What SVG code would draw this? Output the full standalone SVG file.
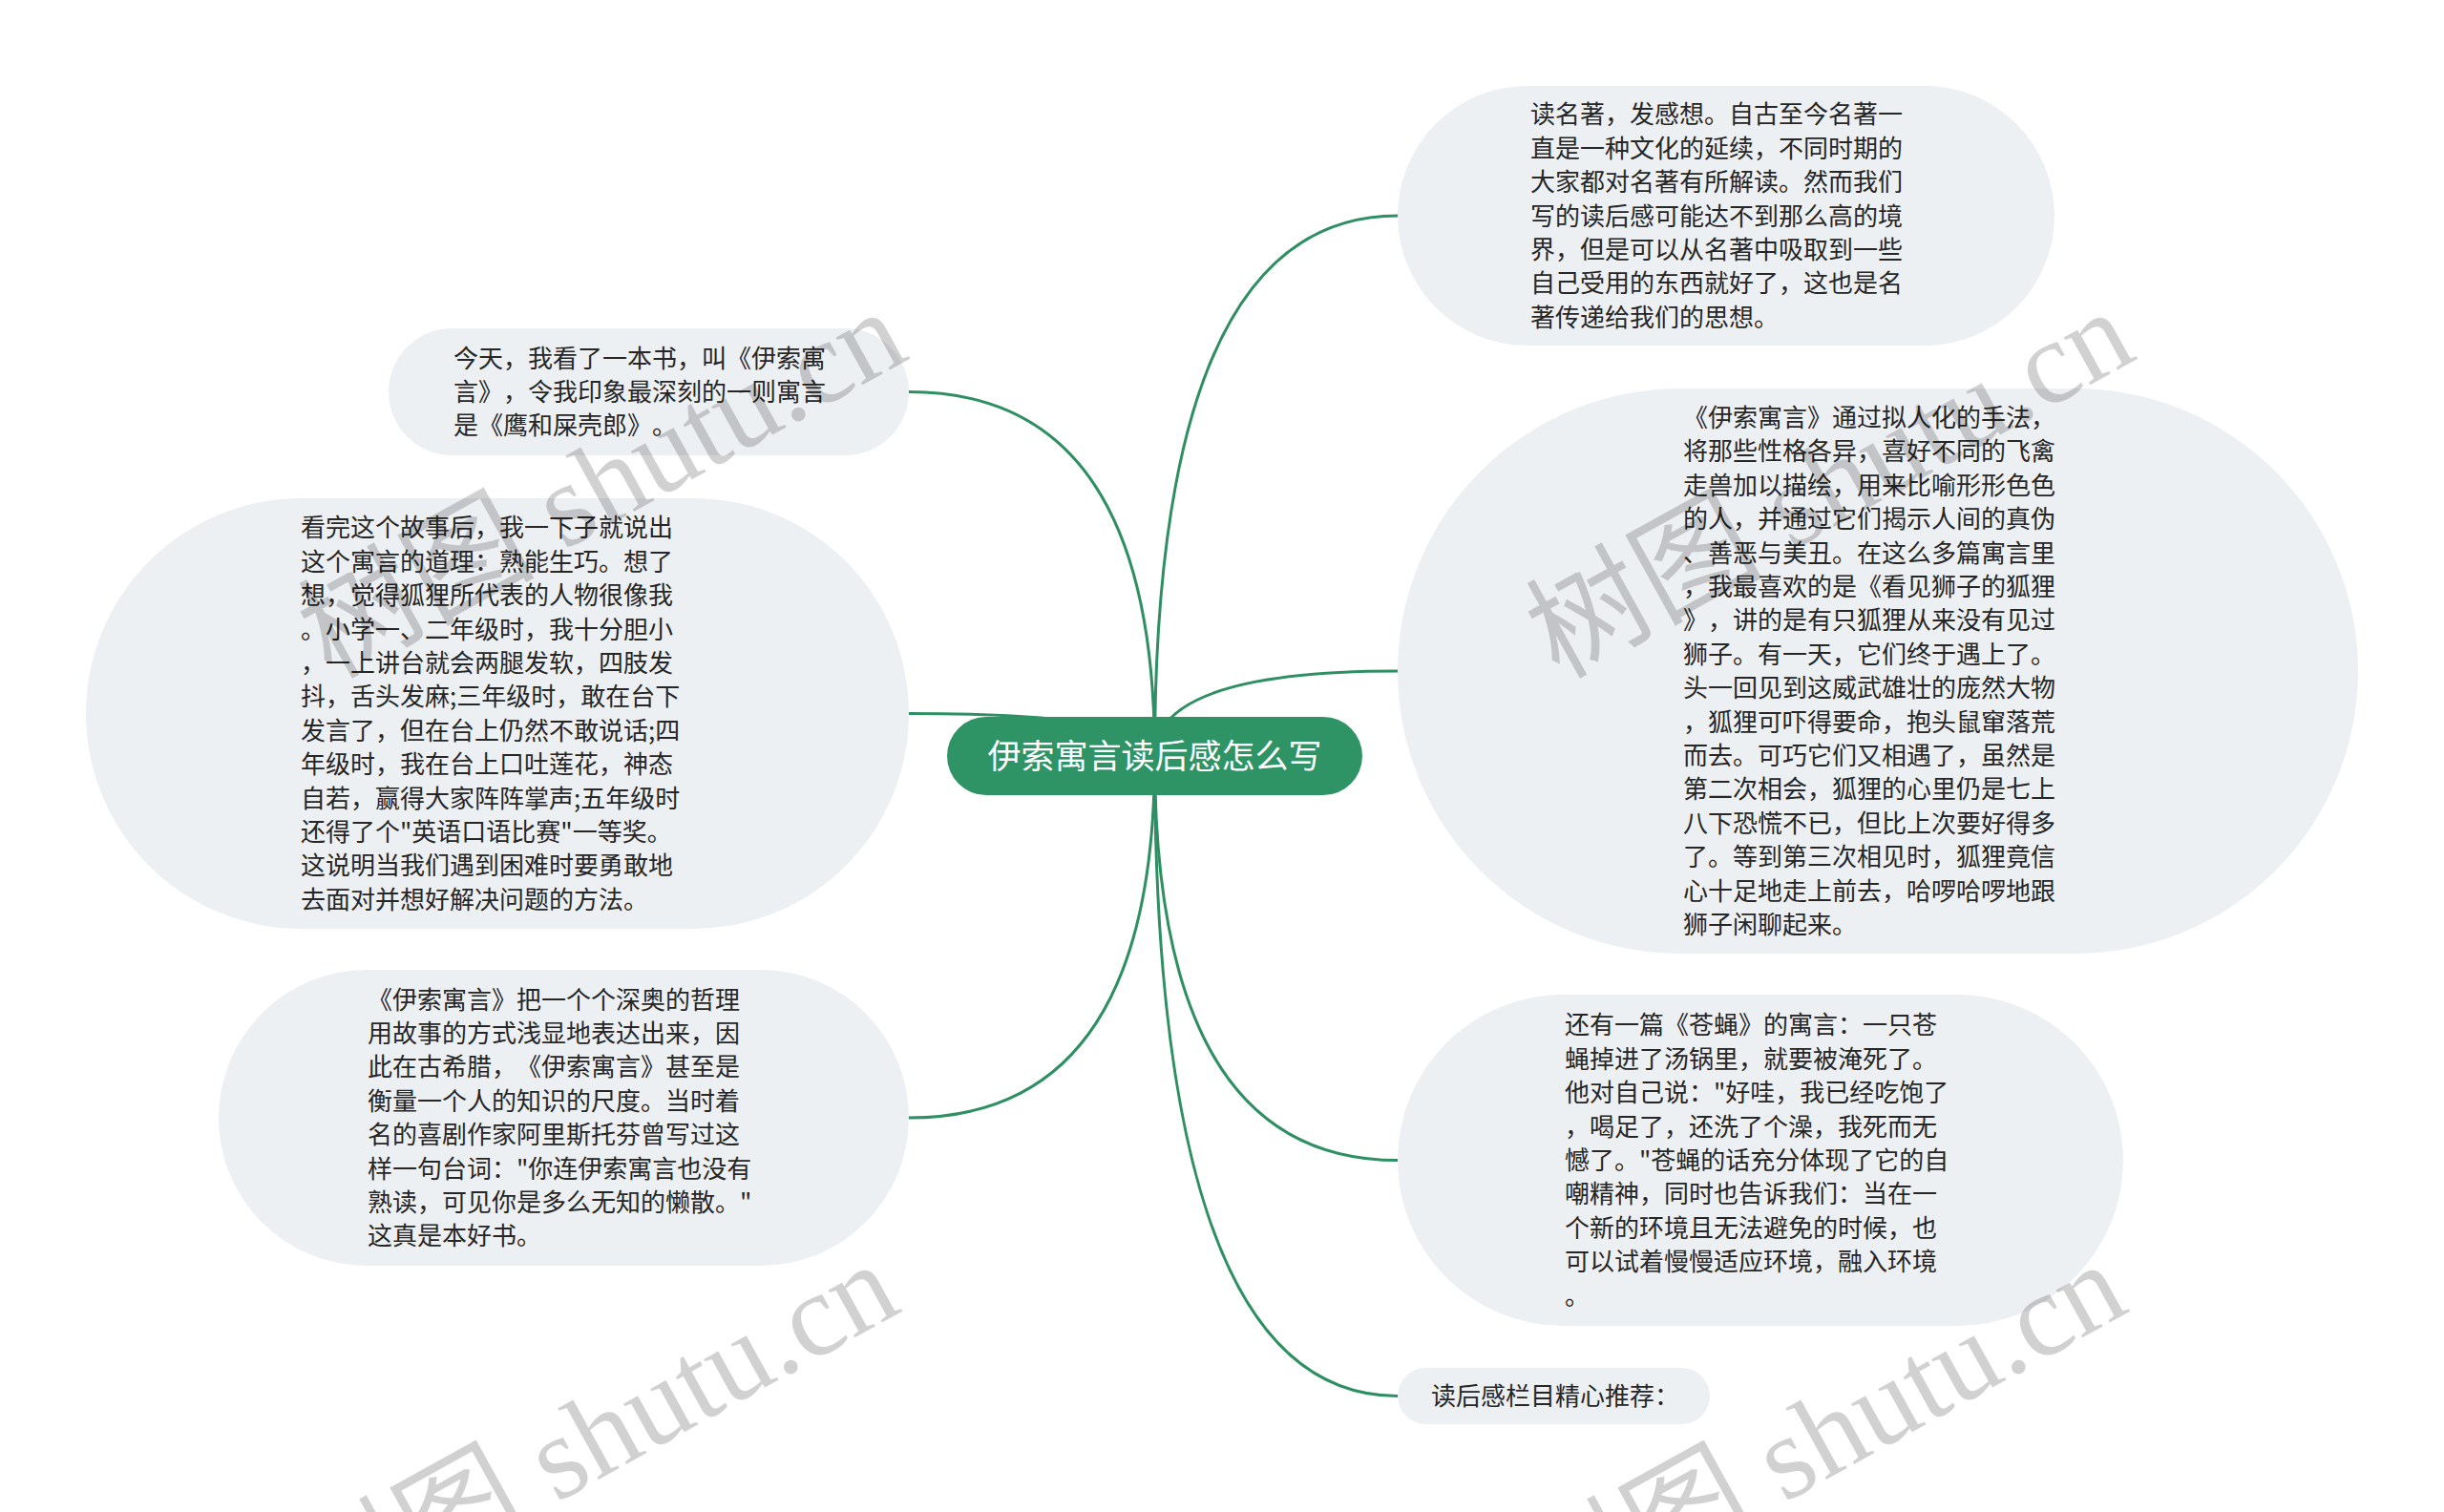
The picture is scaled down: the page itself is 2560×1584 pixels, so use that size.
<svg xmlns="http://www.w3.org/2000/svg" width="2560" height="1584" viewBox="0 0 2560 1584">
<style>
.bg{fill:#ffffff}
.conn path{fill:none;stroke:#2e8f62;stroke-width:3;stroke-linecap:round}
.box{fill:#edf0f3}
.t{font-family:"Noto Sans CJK SC","Liberation Sans",sans-serif;font-size:26px;fill:#262626;text-spacing-trim:space-all;font-feature-settings:"chws" 0,"halt" 0}
.root rect{fill:#2e9466}
.root text{font-family:"Noto Sans CJK SC","Liberation Sans",sans-serif;font-size:35px;fill:#ffffff;text-anchor:middle}
.wm{font-family:"Liberation Serif","Noto Sans CJK SC",serif;font-size:124px;fill:#000000;fill-opacity:0.18}
</style>
<rect class="bg" x="0" y="0" width="2560" height="1584"/>
<g id="connectors" class="conn">
<path d="M1209.5 792 Q1209.5 226 1464 226"/>
<path d="M1209.5 792 Q1209.5 410.5 952 410.5"/>
<path d="M1209.5 792 Q1209.5 747.5 952 747.5"/>
<path d="M1209.5 792 Q1209.5 703 1464 703"/>
<path d="M1209.5 792 Q1209.5 1171 952 1171"/>
<path d="M1209.5 792 Q1209.5 1215.5 1464 1215.5"/>
<path d="M1209.5 792 Q1209.5 1462.5 1464 1462.5"/>
</g>
<g id="node1">
<rect class="box" x="1464" y="90" width="688" height="272" rx="136"/>
<text class="t" x="1603" y="129.3"><tspan x="1603">读名著，发感想。自古至今名著一</tspan><tspan x="1603" dy="35.4">直是一种文化的延续，不同时期的</tspan><tspan x="1603" dy="35.4">大家都对名著有所解读。然而我们</tspan><tspan x="1603" dy="35.4">写的读后感可能达不到那么高的境</tspan><tspan x="1603" dy="35.4">界，但是可以从名著中吸取到一些</tspan><tspan x="1603" dy="35.4">自己受用的东西就好了，这也是名</tspan><tspan x="1603" dy="35.4">著传递给我们的思想。</tspan></text>
</g>
<g id="node2">
<rect class="box" x="407" y="344" width="545" height="133" rx="66.5"/>
<text class="t" x="475" y="384.6"><tspan x="475">今天，我看了一本书，叫《伊索寓</tspan><tspan x="475" dy="35.4">言》，令我印象最深刻的一则寓言</tspan><tspan x="475" dy="35.4">是《鹰和屎壳郎》。</tspan></text>
</g>
<g id="node3">
<rect class="box" x="90" y="522" width="862" height="451" rx="225.5"/>
<text class="t" x="315" y="562.3"><tspan x="315">看完这个故事后，我一下子就说出</tspan><tspan x="315" dy="35.4">这个寓言的道理：熟能生巧。想了</tspan><tspan x="315" dy="35.4">想，觉得狐狸所代表的人物很像我</tspan><tspan x="315" dy="35.4">。小学一、二年级时，我十分胆小</tspan><tspan x="315" dy="35.4">，一上讲台就会两腿发软，四肢发</tspan><tspan x="315" dy="35.4">抖，舌头发麻;三年级时，敢在台下</tspan><tspan x="315" dy="35.4">发言了，但在台上仍然不敢说话;四</tspan><tspan x="315" dy="35.4">年级时，我在台上口吐莲花，神态</tspan><tspan x="315" dy="35.4">自若，赢得大家阵阵掌声;五年级时</tspan><tspan x="315" dy="35.4">还得了个"英语口语比赛"一等奖。</tspan><tspan x="315" dy="35.4">这说明当我们遇到困难时要勇敢地</tspan><tspan x="315" dy="35.4">去面对并想好解决问题的方法。</tspan></text>
</g>
<g id="node4">
<rect class="box" x="229" y="1016" width="723" height="310" rx="155"/>
<text class="t" x="385" y="1056.6"><tspan x="385">《伊索寓言》把一个个深奥的哲理</tspan><tspan x="385" dy="35.4">用故事的方式浅显地表达出来，因</tspan><tspan x="385" dy="35.4">此在古希腊，《伊索寓言》甚至是</tspan><tspan x="385" dy="35.4">衡量一个人的知识的尺度。当时着</tspan><tspan x="385" dy="35.4">名的喜剧作家阿里斯托芬曾写过这</tspan><tspan x="385" dy="35.4">样一句台词："你连伊索寓言也没有</tspan><tspan x="385" dy="35.4">熟读，可见你是多么无知的懒散。"</tspan><tspan x="385" dy="35.4">这真是本好书。</tspan></text>
</g>
<g id="node5">
<rect class="box" x="1464" y="407" width="1006" height="592" rx="296"/>
<text class="t" x="1763" y="447"><tspan x="1763">《伊索寓言》通过拟人化的手法，</tspan><tspan x="1763" dy="35.4">将那些性格各异，喜好不同的飞禽</tspan><tspan x="1763" dy="35.4">走兽加以描绘，用来比喻形形色色</tspan><tspan x="1763" dy="35.4">的人，并通过它们揭示人间的真伪</tspan><tspan x="1763" dy="35.4">、善恶与美丑。在这么多篇寓言里</tspan><tspan x="1763" dy="35.4">，我最喜欢的是《看见狮子的狐狸</tspan><tspan x="1763" dy="35.4">》，讲的是有只狐狸从来没有见过</tspan><tspan x="1763" dy="35.4">狮子。有一天，它们终于遇上了。</tspan><tspan x="1763" dy="35.4">头一回见到这威武雄壮的庞然大物</tspan><tspan x="1763" dy="35.4">，狐狸可吓得要命，抱头鼠窜落荒</tspan><tspan x="1763" dy="35.4">而去。可巧它们又相遇了，虽然是</tspan><tspan x="1763" dy="35.4">第二次相会，狐狸的心里仍是七上</tspan><tspan x="1763" dy="35.4">八下恐慌不已，但比上次要好得多</tspan><tspan x="1763" dy="35.4">了。等到第三次相见时，狐狸竟信</tspan><tspan x="1763" dy="35.4">心十足地走上前去，哈啰哈啰地跟</tspan><tspan x="1763" dy="35.4">狮子闲聊起来。</tspan></text>
</g>
<g id="node6">
<rect class="box" x="1464" y="1042" width="760" height="347" rx="173.5"/>
<text class="t" x="1639" y="1083.4"><tspan x="1639">还有一篇《苍蝇》的寓言：一只苍</tspan><tspan x="1639" dy="35.4">蝇掉进了汤锅里，就要被淹死了。</tspan><tspan x="1639" dy="35.4">他对自己说："好哇，我已经吃饱了</tspan><tspan x="1639" dy="35.4">，喝足了，还洗了个澡，我死而无</tspan><tspan x="1639" dy="35.4">憾了。"苍蝇的话充分体现了它的自</tspan><tspan x="1639" dy="35.4">嘲精神，同时也告诉我们：当在一</tspan><tspan x="1639" dy="35.4">个新的环境且无法避免的时候，也</tspan><tspan x="1639" dy="35.4">可以试着慢慢适应环境，融入环境</tspan><tspan x="1639" dy="35.4">。</tspan></text>
</g>
<g id="node7">
<rect class="box" x="1464" y="1433" width="327" height="59" rx="29.5"/>
<text class="t" x="1499" y="1472">读后感栏目精心推荐：</text>
</g>
<g id="root" class="root">
<rect x="992" y="751" width="435" height="82" rx="41"/>
<text x="1209.5" y="805">伊索寓言读后感怎么写</text>
</g>
<g id="watermarks">
<text class="wm" x="346.5" y="712" transform="rotate(-29 346.5 712)">树图 shutu.cn</text>
<text class="wm" x="1632.5" y="712" transform="rotate(-29 1632.5 712)">树图 shutu.cn</text>
<text class="wm" x="338.5" y="1710" transform="rotate(-29 338.5 1710)">树图 shutu.cn</text>
<text class="wm" x="1624.5" y="1710" transform="rotate(-29 1624.5 1710)">树图 shutu.cn</text>
</g>
</svg>
